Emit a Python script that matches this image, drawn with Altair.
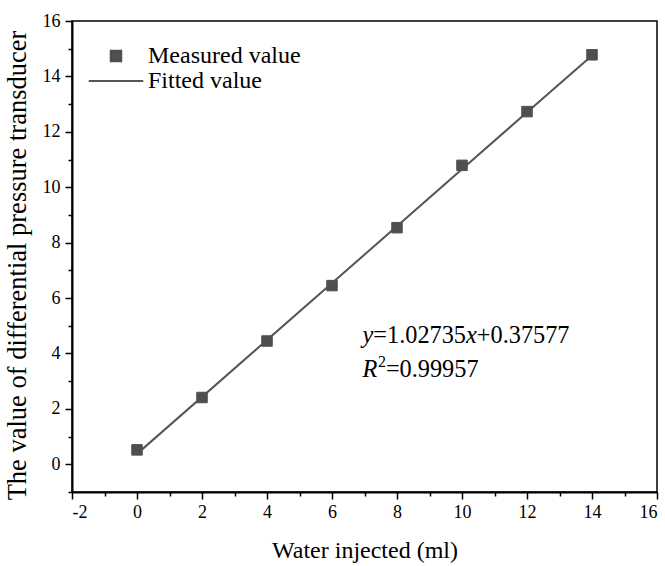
import altair as alt
import pandas as pd

# ---- data ----
water_ml = [0, 2, 4, 6, 8, 10, 12, 14]
measured = [0.52, 2.41, 4.45, 6.45, 8.54, 10.79, 12.73, 14.78]
fit_x = [0, 14]
fit_y = [0.376, 14.759]          # y = 1.02735x + 0.37577 at the ends
series_names = ["Measured value", "Fitted value"]
x_major = [-2, 0, 2, 4, 6, 8, 10, 12, 14, 16]
x_minor = [-1, 1, 3, 5, 7, 9, 11, 13, 15]
y_major = [0, 2, 4, 6, 8, 10, 12, 14, 16]
y_minor = [-1, 1, 3, 5, 7, 9, 11, 13, 15]
eq_text = ["y", "=1.02735", "x", "+0.37577"]
r2_text = ["R", "2", "=0.99957"]

FONT = "Liberation Serif"
GRAY = "#4f4f4f"
LINE_GRAY = "#555555"

pts = pd.DataFrame({"x": water_ml, "y": measured, "series": series_names[0]})
fit = pd.DataFrame({"x": fit_x, "y": fit_y})

xs = alt.Scale(domain=[-2, 16], nice=False, zero=False)
ys = alt.Scale(domain=[-1, 16], nice=False, zero=False)

major_x_axis = alt.Axis(
    orient="bottom", values=x_major, labelExpr="'' + datum.value",
    tickSize=7, tickWidth=1.5,
    domainWidth=2, domainColor="black", tickColor="black", grid=False,
    labelFont=FONT, labelFontSize=18, labelColor="black", labelPadding=4,
    title="Water injected (ml)", titleFont=FONT, titleFontSize=24,
    titleFontWeight="normal", titleColor="black", titleY=65,
    titleBaseline="alphabetic")
major_y_axis = alt.Axis(
    orient="left", values=y_major, labelExpr="'' + datum.value",
    tickSize=7, tickWidth=1.5,
    domainWidth=2, domainColor="black", tickColor="black", grid=False,
    labelFont=FONT, labelFontSize=18, labelColor="black", labelPadding=5,
    title="The value of differential pressure transducer", titleFont=FONT,
    titleFontSize=26.5, titleFontWeight="normal", titleColor="black",
    titleX=-47, titleY=244, titleBaseline="alphabetic")
minor_x_axis = alt.Axis(orient="bottom", values=x_minor, tickSize=4,
                        tickWidth=1.5, labels=False, domain=False,
                        tickColor="black", grid=False, title=None)
minor_y_axis = alt.Axis(orient="left", values=y_minor, tickSize=4,
                        tickWidth=1.5, labels=False, domain=False,
                        tickColor="black", grid=False, title=None)

legend = alt.Legend(
    orient="none", legendX=32, legendY=23, title=None, labelFont=FONT,
    labelFontSize=24, labelColor="black", labelOffset=20, rowPadding=1,
    symbolStrokeWidth=2, symbolSize=110, padding=0, labelLimit=400)

color_scale = alt.Scale(domain=series_names, range=[GRAY, LINE_GRAY])
shape_scale = alt.Scale(domain=series_names, range=["square", "M-5.2,0H5.2"])

points = alt.Chart(pts).mark_point(filled=True, opacity=1, strokeWidth=1, size=110).encode(
    x=alt.X("x:Q", scale=xs, axis=major_x_axis),
    y=alt.Y("y:Q", scale=ys, axis=major_y_axis),
    fill=alt.Fill("series:N", scale=color_scale, legend=legend),
    stroke=alt.Stroke("series:N", scale=color_scale, legend=legend),
    shape=alt.Shape("series:N", scale=shape_scale, legend=legend),
)

line = alt.Chart(fit).mark_line(color=LINE_GRAY, strokeWidth=2).encode(
    x=alt.X("x:Q", scale=xs, axis=minor_x_axis),
    y=alt.Y("y:Q", scale=ys, axis=minor_y_axis),
)

anchor = alt.Data(values=[{"a": 0}])
EQ_X, EQ_Y, R2_Y = 6.94, 4.37, 3.14
FS = 24.3


def frag(text, x, y, dx, italic=False, size=FS, dy=0):
    return alt.Chart(anchor).mark_text(
        text=text, align="left", baseline="alphabetic", font=FONT,
        fontSize=size, fontStyle="italic" if italic else "normal",
        color="black", dx=dx, dy=dy).encode(
        x=alt.XDatum(x, scale=xs, axis=None, type="quantitative"),
        y=alt.YDatum(y, scale=ys, axis=None, type="quantitative"))


w_y = 0.444 * FS
w_num = (0.564 + 0.25 + 6 * 0.5) * FS
w_R = 0.611 * FS
texts = [
    frag(eq_text[0], EQ_X, EQ_Y, 0, True),
    frag(eq_text[1], EQ_X, EQ_Y, w_y),
    frag(eq_text[2], EQ_X, EQ_Y, w_y + w_num, True),
    frag(eq_text[3], EQ_X, EQ_Y, 2 * w_y + w_num),
    frag(r2_text[0], EQ_X, R2_Y, 0, True),
    frag(r2_text[1], EQ_X, R2_Y, w_R + 0.5, size=16, dy=-10),
    frag(r2_text[2], EQ_X, R2_Y, w_R + 8.5),
]

chart = alt.layer(line, points, *texts).resolve_axis(
    x="independent", y="independent"
).properties(
    width=585, height=471,
    autosize=alt.AutoSizeParams(type="none"),
    padding={"left": 72, "top": 21, "right": 8, "bottom": 74},
    background="white",
).configure_view(stroke="black", strokeWidth=1.5)

chart.save("out.html", embed_options={"renderer": "svg", "actions": False})
